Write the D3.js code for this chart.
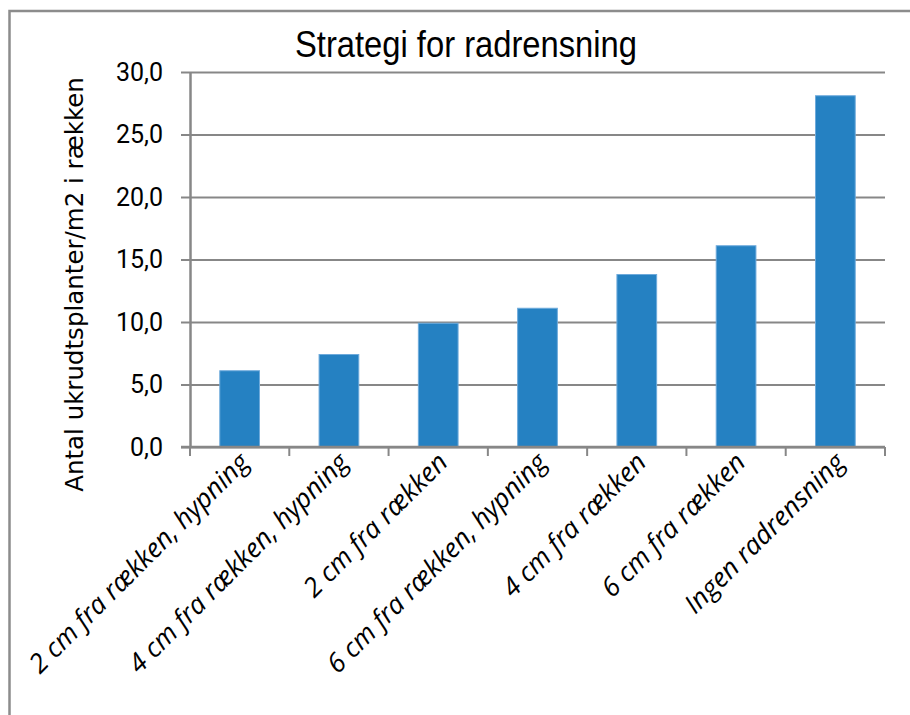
<!DOCTYPE html>
<html><head><meta charset="utf-8">
<script src="https://cdn.jsdelivr.net/npm/d3@7"></script>
<style>body{margin:0;background:#fff;overflow:hidden}</style>
</head><body><svg id="c" width="910" height="715"></svg>
<script>
const categories = ["2 cm fra rækken, hypning","4 cm fra rækken, hypning","2 cm fra rækken","6 cm fra rækken, hypning","4 cm fra rækken","6 cm fra rækken","Ingen radrensning"];
const values = [6.1, 7.4, 9.9, 11.1, 13.8, 16.1, 28.1];
const yTicks = [0, 5, 10, 15, 20, 25, 30];
const titleText = "Strategi for radrensning";
const yTitleText = "Antal ukrudtsplanter/m2 i rækken";

const svg = d3.select("#c");
const W = 910, H = 715;
const m = {left: 190, right: 885, top: 72, bottom: 447};
const grey = "#878787";

svg.append("rect").attr("width", W).attr("height", H).attr("fill", "#fff");
// outer chart border (extends past the window on right/bottom)
svg.append("rect").attr("x", 9.5).attr("y", 11).attr("width", W + 20).attr("height", H + 20)
  .attr("fill", "none").attr("stroke", "#8c8c8c").attr("stroke-width", 2.5);

const x = d3.scaleBand().domain(categories).range([m.left, m.right]).paddingInner(0.6).paddingOuter(0.3);
const y = d3.scaleLinear().domain([0, 30]).range([m.bottom, m.top]);

// gridlines
const grid = svg.append("g").attr("transform", `translate(${m.left},0)`)
  .call(d3.axisLeft(y).tickValues(yTicks).tickSize(-(m.right - m.left)).tickFormat(""));
grid.select(".domain").remove();
grid.selectAll(".tick line").attr("stroke", grey).attr("stroke-width", 2);

// y axis with labels
const fmt = v => d3.format(".1f")(v).replace(".", ",");
const ya = svg.append("g").attr("transform", `translate(${m.left},0)`)
  .call(d3.axisLeft(y).tickValues(yTicks).tickSize(9).tickSizeOuter(0).tickPadding(18).tickFormat(fmt));
ya.select(".domain").attr("stroke", grey).attr("stroke-width", 2.5);
ya.selectAll(".tick line").attr("stroke", grey).attr("stroke-width", 2);
ya.selectAll(".tick text").attr("fill", "#000").style("font-family", "Roboto, 'Liberation Sans', sans-serif").style("font-size", "25px");

// bars
svg.append("g").selectAll("rect").data(values).join("rect")
  .attr("x", (d, i) => x(categories[i]))
  .attr("y", d => y(d))
  .attr("width", x.bandwidth())
  .attr("height", d => y(0) - y(d))
  .attr("fill", "#2581c2")
  .attr("stroke", "#6eaadb").attr("stroke-width", 1);

// x axis line + ticks at category boundaries
const half = (x.step() - x.bandwidth()) / 2;
const bounds = categories.map(c => x(c) - half).concat([x(categories[categories.length - 1]) + x.bandwidth() + half]);
svg.append("line").attr("x1", m.left - 9).attr("x2", m.right).attr("y1", y(0)).attr("y2", y(0))
  .attr("stroke", grey).attr("stroke-width", 2.5);
svg.append("g").selectAll("line").data(bounds).join("line")
  .attr("x1", d => d).attr("x2", d => d).attr("y1", y(0)).attr("y2", y(0) + 9)
  .attr("stroke", grey).attr("stroke-width", 2);

// x labels
svg.append("g").selectAll("text").data(categories).join("text")
  .attr("transform", c => `translate(${x(c) + x.bandwidth() / 2 + 11},${y(0) + 17}) rotate(-45)`)
  .attr("text-anchor", "end")
  .style("font-family", "'Open Sans', sans-serif").style("font-style", "italic").style("font-size", "26.5px")
  .attr("fill", "#000")
  .text(d => d);

// title
svg.append("text").attr("x", 466).attr("y", 57).attr("text-anchor", "middle")
  .attr("textLength", 342).attr("lengthAdjust", "spacingAndGlyphs")
  .style("font-family", "'Liberation Sans', sans-serif").style("font-size", "37px")
  .attr("fill", "#000").text(titleText);

// y title
svg.append("text").attr("transform", `translate(83,${(m.top + m.bottom) / 2 + 25}) rotate(-90)`)
  .attr("text-anchor", "middle")
  .style("font-family", "'DejaVu Sans', sans-serif").style("font-size", "24.5px")
  .attr("fill", "#000").text(yTitleText);
</script></body></html>
